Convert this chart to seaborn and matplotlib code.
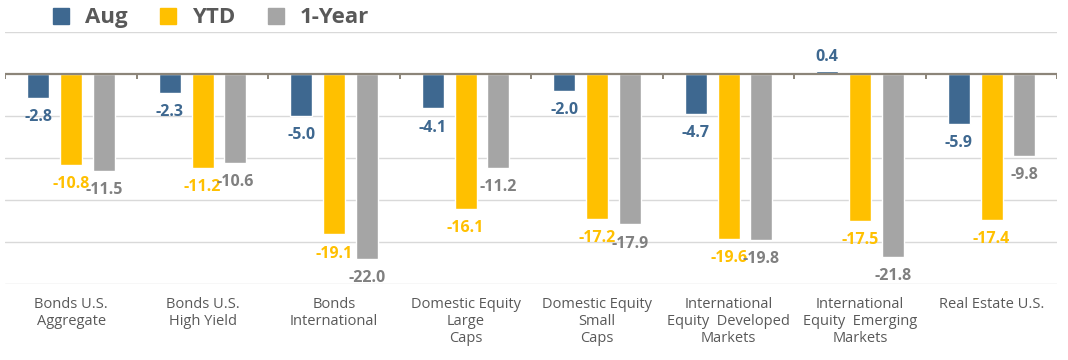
import numpy as np
import pandas as pd
import matplotlib
matplotlib.use('Agg')
import matplotlib.pyplot as plt
import seaborn as sns

# Chart data
categories = ['Bonds U.S.\nAggregate', 'Bonds U.S.\nHigh Yield', 'Bonds\nInternational',
              'Domestic Equity\nLarge\nCaps', 'Domestic Equity\nSmall\nCaps',
              'International\nEquity  Developed\nMarkets', 'International\nEquity  Emerging\nMarkets',
              'Real Estate U.S.']
series = ['Aug', 'YTD', '1-Year']
aug = [-2.8, -2.3, -5.0, -4.1, -2.0, -4.7, 0.4, -5.9]
ytd = [-10.8, -11.2, -19.1, -16.1, -17.2, -19.6, -17.5, -17.4]
one_year = [-11.5, -10.6, -22.0, -11.2, -17.9, -19.8, -21.8, -9.8]

bar_colors = ['#3e6890', '#ffc000', '#a5a5a5']
label_colors = ['#3e6890', '#ffc000', '#808080']

df = pd.DataFrame({
    'category': categories * 3,
    'series': [s for s in series for _ in categories],
    'value': aug + ytd + one_year,
})

sns.set_style('white')
plt.rcParams['font.family'] = ['Open Sans', 'DejaVu Sans']

fig = plt.figure(figsize=(10.68, 3.6), dpi=100)
ax = fig.add_axes([0.005, 0.211, 0.985, 0.700])

sns.barplot(data=df, x='category', y='value', hue='series', order=categories,
            hue_order=series, palette=bar_colors, width=0.75, gap=0.33,
            saturation=1, legend=False, ax=ax)

ax.set_ylim(-25, 5)
ax.set_xlim(-0.5, len(categories) - 0.5)
ax.set_yticks([5, -5, -10, -15, -20, -25])
ax.yaxis.grid(True, color='#d9d9d9', linewidth=1)
ax.set_axisbelow(True)
ax.tick_params(axis='y', left=False, labelleft=False)
ax.tick_params(axis='x', length=0, pad=9, labelsize=10.5, labelcolor='#595959')
for sp in ax.spines.values():
    sp.set_visible(False)
ax.set_xlabel('')
ax.set_ylabel('')

# zero line with category separator ticks
ax.axhline(0, color='#8c8579', linewidth=1.6, zorder=3)
ax.vlines(np.arange(len(categories) + 1) - 0.5, -0.6, 0, color='#8c8579',
          linewidth=1.4, zorder=3)

# data labels
for container, col in zip(ax.containers, label_colors):
    for bar in container:
        v = bar.get_height()
        xc = bar.get_x() + bar.get_width() / 2
        if v < 0:
            ax.annotate(f'{v:.1f}', (xc, v), xytext=(0, -8), textcoords='offset points',
                        ha='center', va='top', fontsize=11.5, fontweight='bold', color=col)
        else:
            ax.annotate(f'{v:.1f}', (xc, v), xytext=(0, 4), textcoords='offset points',
                        ha='center', va='bottom', fontsize=11.5, fontweight='bold', color=col)

# legend
handles = [plt.Line2D([], [], marker='s', linestyle='', markersize=11,
                      markerfacecolor=c, markeredgecolor=c) for c in bar_colors]
leg = fig.legend(handles, series, loc='upper left', bbox_to_anchor=(0.03, 1.035), ncol=3,
                 frameon=False, handlelength=0.8, handletextpad=0.7, columnspacing=1.4,
                 prop={'size': 16, 'weight': 'bold'})
for t in leg.get_texts():
    t.set_color('#595959')

fig.savefig('out.png', dpi=100)
